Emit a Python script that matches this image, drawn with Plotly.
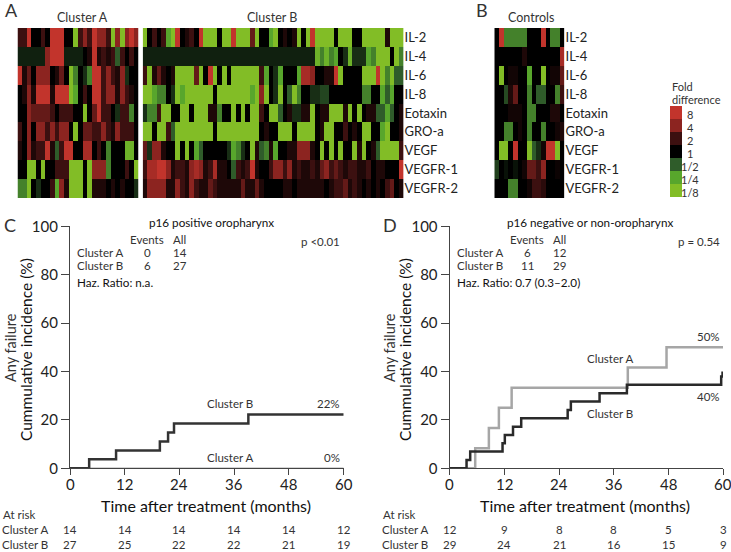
import plotly.graph_objects as go

W, H = 731, 552
FONT = "Lato"
cytokines = ["IL-2", "IL-4", "IL-6", "IL-8", "Eotaxin", "GRO-a", "VEGF", "VEGFR-1", "VEGFR-2"]

a_il2 = [1,1,3,0,0,1,0,3,3,3,0,0,-3,1,2,1,3,2,2,1,-3,2,-3,2,3,2]
a_il4 = [-.35,-.35,-.35,-.35,-.35,-.35,2,3,3,3,-.35,-.35,-.35,-.35,0,.5,3,.5,1,.5,1,-1,1,0,1,0]
a_il6 = [3,.5,1.5,0,2,2,2,0,.5,1.5,0,-3,-1.5,0,-.5,-1.5,3,3,1,2,1,.5,2,-.5,0,0]
a_il8 = [0,.5,2,.5,3,3,3,.5,3,3,3,-3,-2,0,1,0,3,3,1,2,2,.5,2,1,.5,0]
a_eot = [0,0,2,1.5,1.5,1.5,1.5,1,0,1,1,1,0,0,-3,0,1.5,3,1,1,0,-.5,1,1,-1.5,0]
a_gro = [1,0,2,0,2,2,1,2,1,2,2,0,-3,0,1.5,1.5,1,1,2,1,.5,2,1,1,1,0]
a_vegf = [.5,0,2,.5,1,1,3,.5,-1,1,3,3,0,0,2.5,2.5,0,1,0,-1.5,0,0,0,-2.5,-2.5,0]
a_vr1 = [0,0,-3,-3,0,-3,0,0,1,1,1,-3,-3,-3,0,-3,2,2,2,-1.5,0,0,0,1,0,-3]
a_vr2 = [-1.5,-1.5,-3,0,-.5,0,0,1,-2,2,.5,-3,-3,-3,0,-3,.5,.5,.5,0,.5,0,.5,0,0,-.5]

b_il2 = [-3,0,1,0,1,-2,-3,3,0,.5,1,0,3,-3,-3,-3,0,-3,-3,3,-3,-3,-3,1.5,-3,0,0,-2,-3,0,.5,0,.5,-3,0,-3,3,-3,-3,-3,-3,0,-3,-3,-3,0,0,-3,-3,-3,-3,-3,.5,-3,-3,-3]
b_il4 = [-.35]*37 + [-2.5,-1.5,-2.5,-1.5,-2,0,-.5,-2.5,-.5,-.5,-.5,-2,-1.5,-3,-3,-3,0,-3,-1.5]
b_il6 = [1,-3,.5,1.5,.5,0,.5,-3,-3,-3,-3,1.5,-3,0,3,-3,0,-3,0,-3,-3,-3,-3,-3,-3,1,-2,0,-.5,-2,0,0,0,-2,2.5,2.5,2,0,0,.5,.5,3,-3,0,0,0,0,-3,-3,-3,3,-3,-1.5,-3,-1,-1]
b_il8 = [-3,-3,-2,-1.5,-1.5,0,-.5,-3,-2,-3,-3,-3,-3,-3,-3,0,-3,-3,-3,-3,-3,-3,-3,-2,-3,2,-3,0,-.5,-3,0,-1,-3,-1.5,0,0,-.5,-.5,-.75,-.75,0,0,0,0,0,0,0,-1.5,-1.5,0,0,-2,-1,-2,0,0]
b_eot = [-.5,-1.5,-1.5,1,-3,-3,0,0,-3,-3,0,-3,-3,-3,.5,.5,-1.5,0,0,-3,0,-3,0,-3,-3,1,0,-3,-3,-1,0,.5,-.5,-.5,.5,.5,-3,0,.5,.5,-3,-3,-3,.5,-3,0,-3,0,.5,.5,-1,-1,-2,-1,0,.5]
b_gro = [-3,-3,0,-3,-3,1,-1,-3,-3,-3,-3,-3,-3,-3,-3,0,-3,-3,-3,-3,-3,-3,-3,-3,-3,0,.5,0,0,-3,-3,-3,0,-3,-3,-3,-3,0,.5,-3,-3,0,0,1,0,.5,0,-3,-3,0,0,-2,-3,0,0,.5]
b_vegf = [1.5,-.5,2,2,.5,0,0,-3,0,-3,0,-2,-1,0,0,0,0,0,-.5,-2,-1.5,-.5,0,-3,.5,-1,-1.5,.5,-2,0,0,.5,.5,2,2,2,.5,0,-3,0,-3,0,-3,0,0,-3,.5,-3,0,.5,-1,-3,-3,-3,-3,1]
b_vr1 = [1,2.5,2.5,3,3,2,.5,1,1,.5,2,2.5,2,.5,1,2.5,.5,.5,0,-1,1,.5,1,3,.5,0,0,1,2,2,1,2,.5,1,.5,.5,1,.5,1.5,2,1,1.5,1,.5,1,1,.5,.5,1,0,.5,.5,0,0,0,3]
b_vr2 = [.5,2,2,2,2,.5,.5,2,1,.5,2,1,.5,.5,1.5,1,.5,.5,.5,.5,.5,1.5,.5,.5,1.5,.5,0,0,0,0,.5,.5,0,.5,.5,.5,.5,.5,.5,0,.5,1,1,1.5,.5,1,.5,0,.5,0,.5,0,1,1.5,0,.5]

c_il2 = [0,3,-1.5,-1.5,-1.5,-1.5,-1.5,0,0,0,3,0,-1.5,-1.5,0]
c_il4 = [0,0,0,0,0,0,.5,0,0,0,0,0,0,0,2.5]
c_il6 = [0,-3,0,.3,.3,0,0,-2,0,0,-3,0,.3,.3,1.5]
c_il8 = [0,0,-.8,.5,1.5,0,0,-1.5,0,-1,-1,0,0,-1.5,1]
c_eot = [0,0,0,.3,.3,.3,0,-1.5,-1.5,0,0,0,.5,.5,0]
c_gro = [0,0,-1.5,-1.5,0,.3,0,-1.5,0,0,-1.5,0,0,.3,.5]
c_vegf = [0,-3,-3,0,3,0,0,-3,-1,-.5,.3,3,3,-3,0]
c_vr1 = [-.7,0,-.2,0,-.2,0,.3,1.5,1.5,1,2,0,0,.2,0]
c_vr2 = [0,0,0,-1.5,-1.5,0,0,.3,1,1,.7,0,0,0,0]

fold_levels = [3, 2, 1, 0, -1, -2, -3]
fold_labels = ["8", "4", "2", "1", "1/2", "1/4", "1/8"]

months = [0, 12, 24, 36, 48, 60]
c_a_t, c_a_y = [0, 60], [0, 0]
c_b_t = [0, 4.2, 10.1, 19.7, 21.5, 22.8, 39.1, 60]
c_b_y = [0, 3.7, 7.4, 11.1, 14.8, 18.5, 22.2, 22.2]
d_a_t = [0, 5.6, 8.6, 10.8, 13.6, 39.1, 47.6, 60]
d_a_y = [0, 8.3, 16.7, 25, 33.3, 41.7, 50, 50]
d_b_t = [0, 3.7, 4.5, 11.6, 12.1, 13.9, 15.7, 25.9, 26.6, 32.9, 38.9, 59.6, 59.9]
d_b_y = [0, 3.4, 6.9, 10.3, 13.8, 17.2, 20.7, 24.1, 27.6, 31, 34.5, 37.9, 40]
risk_c_a = [14, 14, 14, 14, 14, 12]
risk_c_b = [27, 25, 22, 22, 21, 19]
risk_d_a = [12, 9, 8, 8, 5, 3]
risk_d_b = [29, 24, 21, 16, 15, 9]

scale = [[0, "#82bd26"], [1/6, "#58a62c"], [2/6, "#2f5c2a"], [.5, "#000000"],
         [4/6, "#3c1010"], [5/6, "#8c2420"], [1, "#c2342c"]]

def X(p): return p / W
def Y(p): return 1 - p / H

fig = go.Figure()
layout = dict(width=W, height=H, autosize=False, margin=dict(l=0, r=0, t=0, b=0),
              paper_bgcolor="white", plot_bgcolor="white", showlegend=False,
              font=dict(family=FONT, color="#222222"))

def heat(n, rows, box, labels):
    fig.add_trace(go.Heatmap(z=rows, x=list(range(len(rows[0]))), y=list(range(len(rows))),
                             colorscale=scale, zmin=-3, zmax=3, showscale=False,
                             xaxis=f"x{n}", yaxis=f"y{n}", xgap=0, ygap=0))
    x0, x1, y0, y1 = box
    layout[f"xaxis{n}"] = dict(domain=[X(x0), X(x1)], range=[-.5, len(rows[0]) - .5], visible=False,
                               anchor=f"y{n}", automargin=False)
    ya = dict(domain=[Y(y1), Y(y0)], range=[len(rows) - .5, -.5], anchor=f"x{n}", showgrid=False,
              zeroline=False, showline=False, automargin=False)
    if labels:
        ya.update(side="right", tickmode="array", tickvals=list(range(len(rows))), ticktext=labels,
                  ticklen=4.5, tickcolor="rgba(0,0,0,0)", tickfont=dict(size=13, family=FONT, color="#222222"))
    else:
        ya.update(showticklabels=False, ticks="")
    layout[f"yaxis{n}"] = ya

heat(1, [a_il2, a_il4, a_il6, a_il8, a_eot, a_gro, a_vegf, a_vr1, a_vr2], (17.5, 138.5, 28, 198), None)
heat(2, [b_il2, b_il4, b_il6, b_il8, b_eot, b_gro, b_vegf, b_vr1, b_vr2], (142.7, 403.5, 28, 198), cytokines)
heat(3, [c_il2, c_il4, c_il6, c_il8, c_eot, c_gro, c_vegf, c_vr1, c_vr2], (494.3, 564.5, 28, 198), cytokines)
heat(4, [[v] for v in fold_levels], (670, 682, 106, 197), None)

def km(n, box, series):
    x0, x1, y0, y1 = box
    for t, y, col, w in series:
        fig.add_trace(go.Scatter(x=t, y=y, mode="lines", line=dict(shape="hv", color=col, width=w),
                                 xaxis=f"x{n}", yaxis=f"y{n}", cliponaxis=False))
    layout[f"xaxis{n}"] = dict(domain=[X(x0), X(x1)], range=[0, 60], anchor=f"y{n}", tickvals=months,
                               ticks="outside", ticklen=6, tickwidth=1.3, tickcolor="#444444",
                               showline=True, linecolor="#444444", linewidth=1.3, showgrid=False,
                               zeroline=False, automargin=False, showticklabels=False)
    layout[f"yaxis{n}"] = dict(domain=[Y(y1), Y(y0)], range=[0, 100], anchor=f"x{n}",
                               tickvals=[0, 20, 40, 60, 80, 100], ticks="outside", ticklen=8,
                               tickwidth=1.3, tickcolor="#444444", showline=True, linecolor="#444444",
                               linewidth=1.3, showgrid=False, zeroline=False, automargin=False,
                               tickfont=dict(size=15, family=FONT, color="#222222"))

km(5, (70, 343.7, 226.3, 468.3), [(c_a_t, c_a_y, "#555555", 1.3), (c_b_t, c_b_y, "#333333", 2.5)])
km(6, (449.7, 723, 226.3, 468.3), [(d_a_t, d_a_y, "#a6a6a6", 2.5), (d_b_t, d_b_y, "#2a2a2a", 2.5)])

ann = []
def T(x, y, s, size=11.5, anchor="center", color="#333333", angle=0):
    ann.append(dict(x=X(x), y=Y(y), xref="paper", yref="paper", text=s, showarrow=False, xanchor=anchor,
                    yanchor="middle", textangle=angle, font=dict(size=size, family=FONT, color=color)))

T(11, 10, "A", 18); T(482, 10, "B", 18); T(10, 225, "C", 18); T(390, 225, "D", 18)
T(82.5, 17, "Cluster A", 12.5); T(272, 17, "Cluster B", 12.5); T(530.5, 17, "Controls", 12.5)
T(670, 86, "Fold", 11, "left"); T(670, 99, "difference", 11, "left")
for lab, yy in zip(fold_labels, [114, 127, 140, 153, 166, 179, 192]):
    T(690, yy, lab, 11)

def panel(dx, title, tx, events_a, all_a, events_b, all_b, hr, p, px_r, tdx):
    T(tx, 222.5, title, 11.7, color="#111111")
    T(dx + 147, 240, "Events"); T(dx + 179.5, 240, "All")
    T(dx + 75, 252.5, "Cluster A", anchor="left"); T(dx + 75, 265, "Cluster B", anchor="left")
    T(dx + 147, 252.5, events_a); T(dx + 179.5, 252.5, all_a)
    T(dx + 147, 265, events_b); T(dx + 179.5, 265, all_b)
    T(dx + 75, 282, hr, 11.7, "left", "#111111")
    T(px_r, 241, p, anchor="right")
    T(tdx, 348, "Any failure", 14.5, angle=-90)
    T(tdx + 16, 350, "Cummulative incidence (%)", 15.5, angle=-90, color="#111111")

panel(0, "p16 positive oropharynx", 211, "0", "14", "6", "27", "Haz. Ratio: n.a.", "p <0.01", 342, 10)
panel(380, "p16 negative or non-oropharynx", 590, "6", "12", "11", "29", "Haz. Ratio: 0.7 (0.3\u20132.0)", "p = 0.54", 722, 389)

T(230, 403.5, "Cluster B"); T(230, 457, "Cluster A"); T(342, 403.5, "22%", anchor="right"); T(342, 457, "0%", anchor="right")
T(610, 358, "Cluster A"); T(610, 413, "Cluster B"); T(722, 336, "50%", anchor="right"); T(722, 396, "40%", anchor="right")

def risk(n, dx, ra, rb, title_x):
    T(title_x, 505, "Time after treatment (months)", 16, color="#111111")
    T(dx + 1, 514 + 0, "At risk", anchor="left"); T(dx + 0, 529, "Cluster A", anchor="left"); T(dx + 0, 544, "Cluster B", anchor="left")
    for m, a, b in zip(months, ra, rb):
        ann.append(dict(x=m, y=Y(484), xref=f"x{n}", yref="paper", text=str(m), showarrow=False,
                        xanchor="center", yanchor="middle", font=dict(size=15, family=FONT, color="#222222")))
        for v, yy in ((a, 529), (b, 544)):
            ann.append(dict(x=m, y=Y(yy), xref=f"x{n}", yref="paper", text=str(v), showarrow=False,
                            xanchor="center", yanchor="middle", font=dict(size=11.5, family=FONT, color="#333333")))
risk(5, 0, risk_c_a, risk_c_b, 205.5)
risk(6, 380, risk_d_a, risk_d_b, 585)

layout["annotations"] = ann
fig.update_layout(**layout)
fig.write_html("out.html", config={"displayModeBar": False},
               post_script="document.body.style.margin='0';document.documentElement.style.overflow='hidden';")
